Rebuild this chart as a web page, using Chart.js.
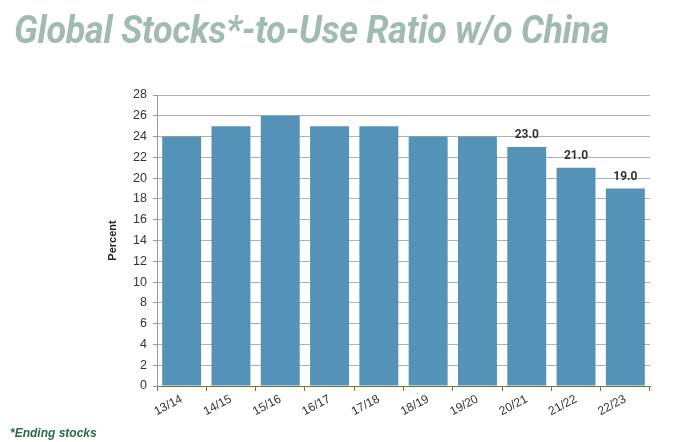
<!DOCTYPE html>
<html>
<head>
<meta charset="utf-8">
<script src="https://cdn.jsdelivr.net/npm/chart.js@4"></script>
<style>
  body { margin: 0; background: #fff; }
  .wrap { position: relative; width: 675px; height: 442px; overflow: hidden; }
  .title {
    position: absolute; left: 14px; top: 7px; margin: 0;
    font-family: Roboto, sans-serif; font-weight: 700; font-style: italic;
    font-size: 39px; line-height: normal; color: #9fbcae; white-space: nowrap;
    transform: scaleX(0.92); transform-origin: left top; letter-spacing: -0.3px;
  }
  .note {
    position: absolute; left: 10px; top: 426px;
    font-family: Arial, "Liberation Sans", sans-serif; font-weight: 700; font-style: italic;
    font-size: 12px; color: #2b6a48;
  }
  canvas { position: absolute; left: 0; top: 0; }
</style>
</head>
<body>
<div class="wrap">
  <canvas id="chart" width="675" height="442"></canvas>
  <div class="title">Global Stocks*-to-Use Ratio w/o China</div>
  <div class="note">*Ending stocks</div>
</div>
<script>
  // data
  const seasons = ["13/14", "14/15", "15/16", "16/17", "17/18", "18/19", "19/20", "20/21", "21/22", "22/23"];
  const ratios = [24, 25, 26, 25, 25, 24, 24, 23, 21, 19];
  const shownLabels = [null, null, null, null, null, null, null, "23.0", "21.0", "19.0"];

  let barColor = "#5592b8";

  // draws the few value labels above the last bars
  const valueLabels = {
    id: "valueLabels",
    afterDatasetsDraw(chart) {
      const ctx = chart.ctx;
      const meta = chart.getDatasetMeta(0);
      ctx.save();
      ctx.font = "bold 12px 'Liberation Sans Narrow', Roboto, sans-serif";
      ctx.fillStyle = "#333";
      ctx.textAlign = "center";
      ctx.textBaseline = "bottom";
      meta.data.forEach((bar, i) => {
        if (shownLabels[i]) ctx.fillText(shownLabels[i], bar.x, bar.y - 6);
      });
      ctx.restore();
    }
  };

  new Chart(document.getElementById("chart"), {
    type: "bar",
    data: {
      labels: seasons,
      datasets: [{
        data: ratios,
        backgroundColor: barColor,
        categoryPercentage: 0.79,
        barPercentage: 1
      }]
    },
    options: {
      responsive: false,
      animation: false,
      layout: { padding: { left: 102, top: 95, right: 25, bottom: 0 } },
      plugins: { legend: { display: false }, tooltip: { enabled: false } },
      scales: {
        x: {
          afterFit: (scale) => { scale.height = 56; },
          grid: { offset: true, drawOnChartArea: false, tickLength: 5, color: "#6b7d2e" },
          border: { color: "#6b7d2e" },
          ticks: {
            minRotation: 28, maxRotation: 28, padding: 1,
            color: "#333", font: { family: "Arial, 'Liberation Sans'", size: 12 }
          }
        },
        y: {
          min: 0, max: 28,
          afterFit: (scale) => { scale.width = 55; },
          grid: { color: "#b0b0b0", tickLength: 4, tickColor: "#999" },
          border: { color: "#999" },
          title: {
            display: true, text: "Percent", color: "#222",
            font: { family: "Arial, 'Liberation Sans'", size: 11, weight: "bold" }
          },
          ticks: {
            stepSize: 2, padding: 6, color: "#333",
            font: { family: "'Liberation Sans Narrow', Arial, sans-serif", size: 12.5 }
          }
        }
      }
    },
    plugins: [valueLabels]
  });
</script>
</body>
</html>
